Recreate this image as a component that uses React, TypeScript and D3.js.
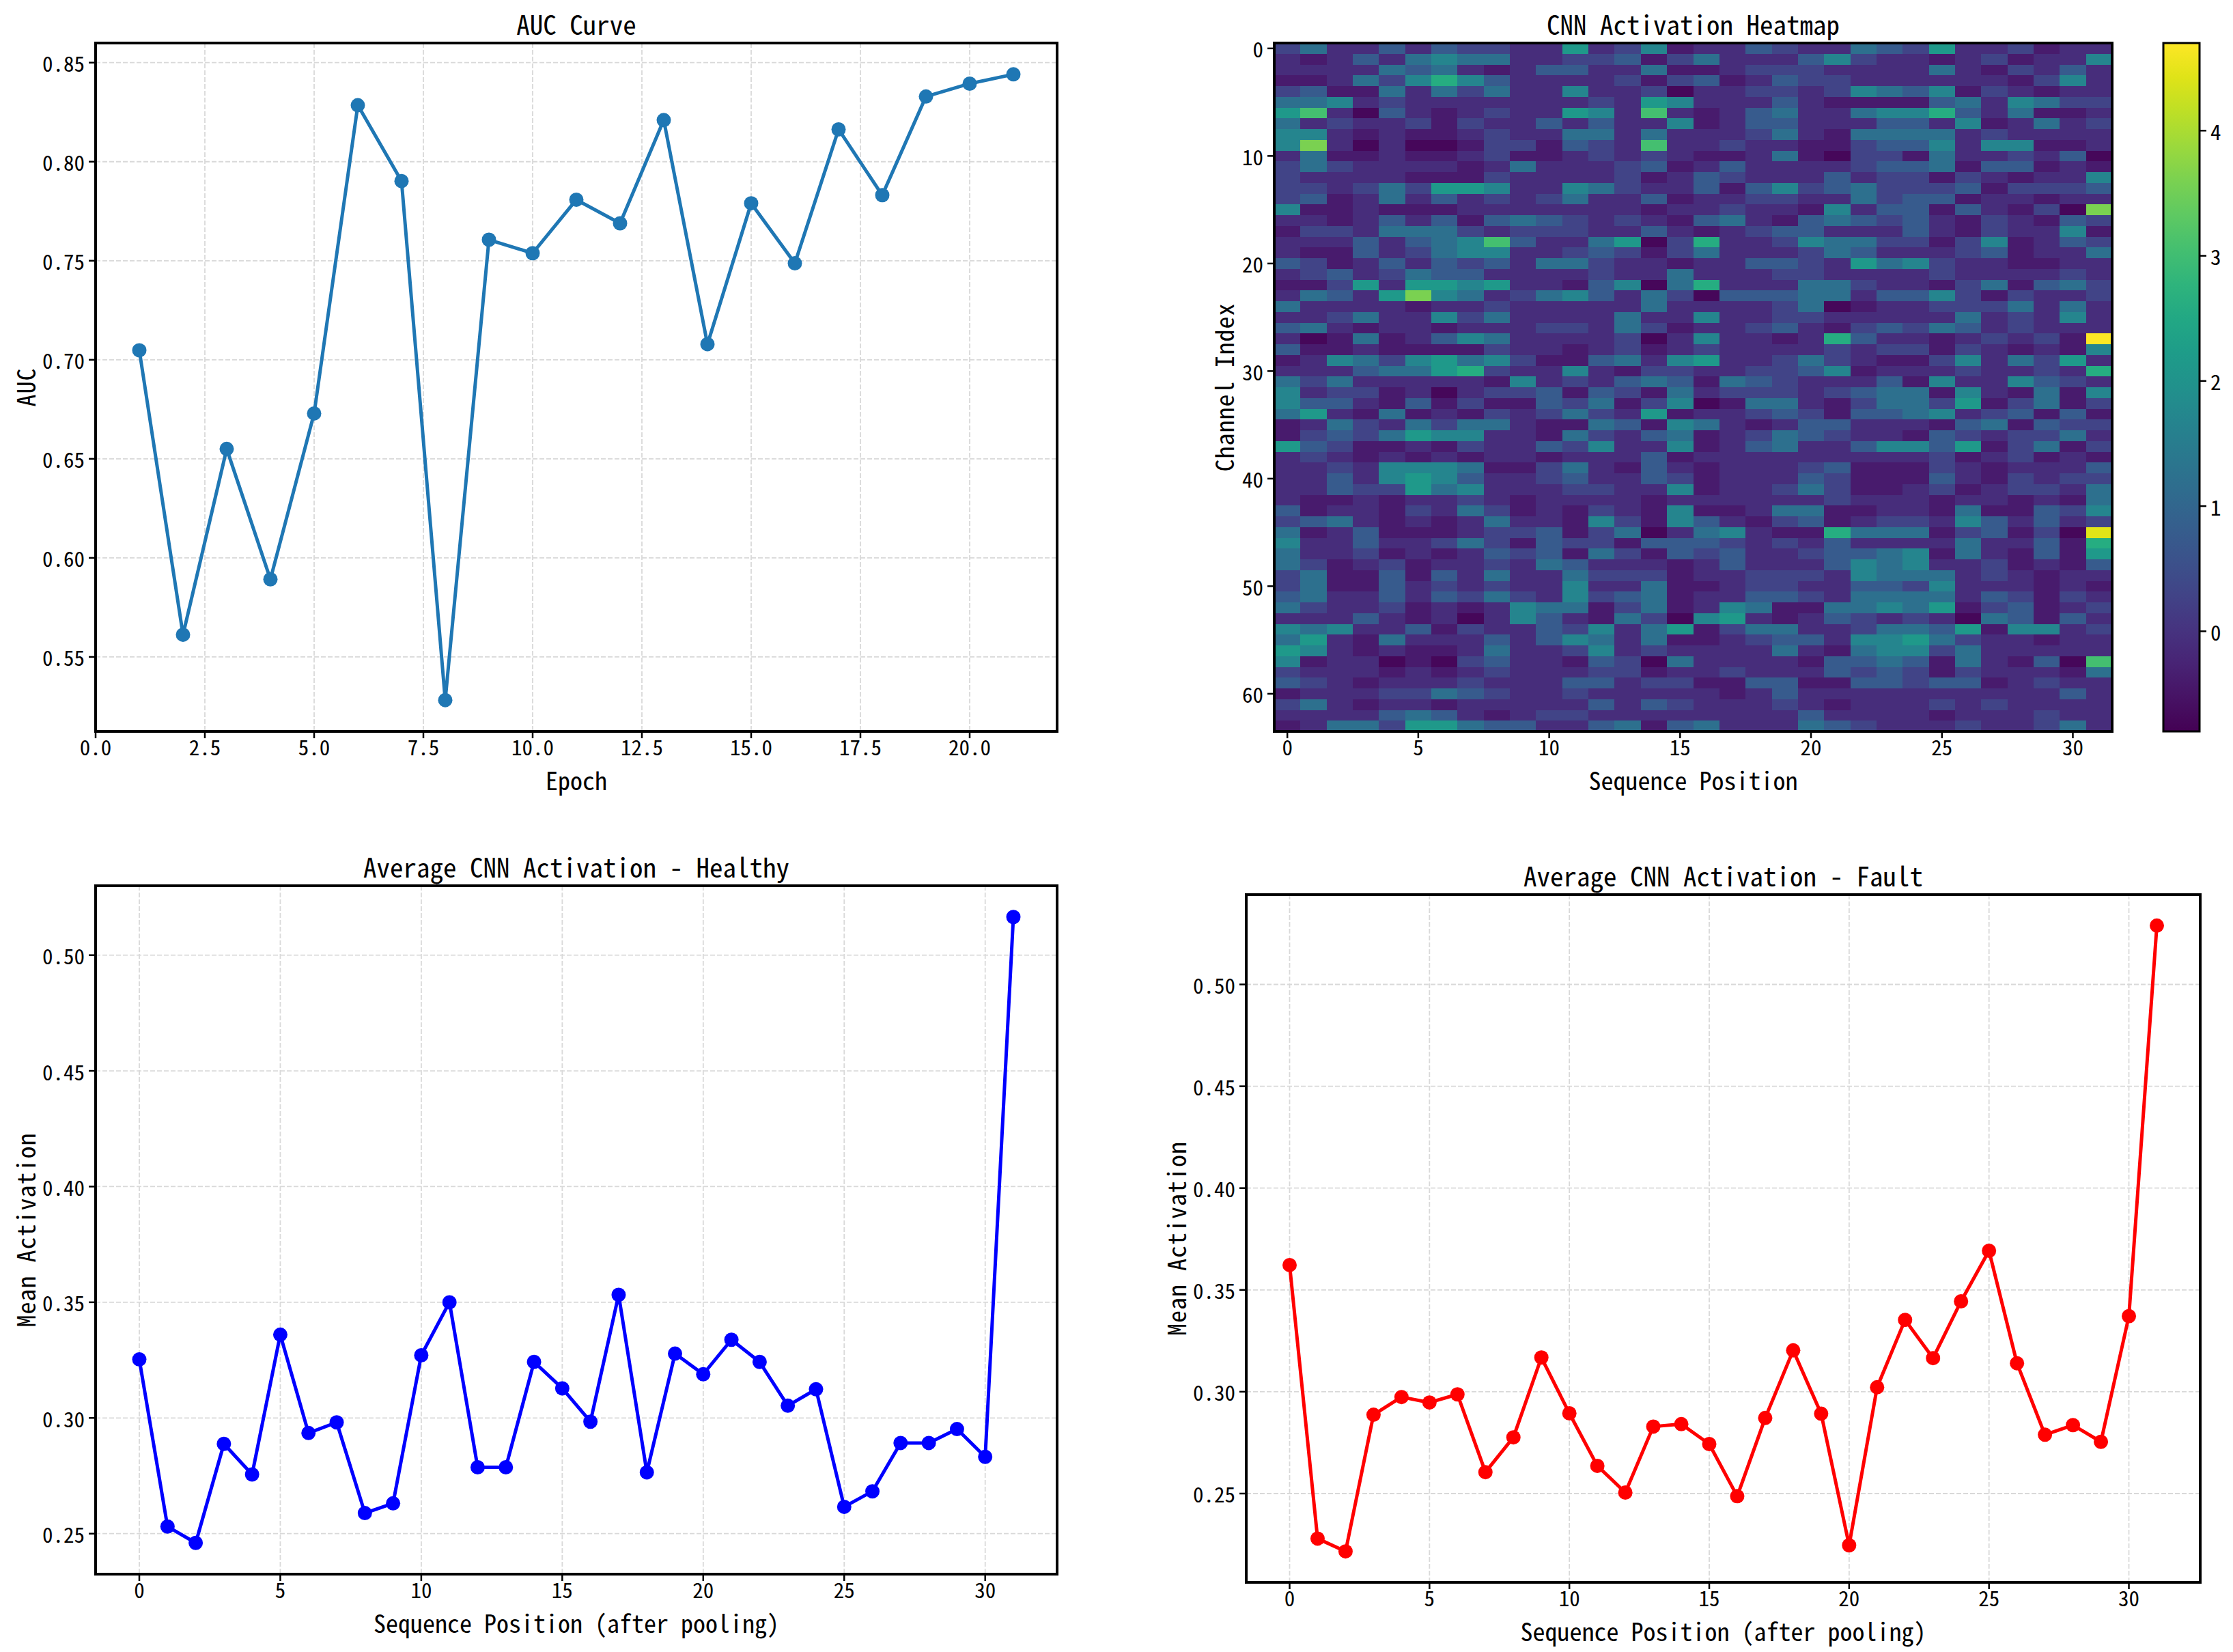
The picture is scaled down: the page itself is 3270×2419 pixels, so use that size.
import * as d3 from 'd3';
import React from 'react';

const W = 3270;
const H = 2419;
const FONT = '"Noto Sans Mono CJK SC", "Noto Sans CJK SC", "DejaVu Sans", sans-serif';

// ---- AUC curve ----
const epochs = [1, 2, 3, 4, 5, 6, 7, 8, 9, 10, 11, 12, 13, 14, 15, 16, 17, 18, 19, 20, 21];
const aucValues = [
  0.7048, 0.5612, 0.655, 0.5892, 0.6729, 0.8285, 0.7902, 0.5282, 0.7606, 0.7538, 0.7808,
  0.7689, 0.821, 0.7079, 0.779, 0.7487, 0.8163, 0.7831, 0.8329, 0.8394, 0.8441,
];
const aucXTicks = [0, 2.5, 5, 7.5, 10, 12.5, 15, 17.5, 20];
const aucYTicks = [0.55, 0.6, 0.65, 0.7, 0.75, 0.8, 0.85];

// ---- average activation ----
const positions = [
  0, 1, 2, 3, 4, 5, 6, 7, 8, 9, 10, 11, 12, 13, 14, 15, 16, 17, 18, 19, 20, 21, 22, 23, 24, 25,
  26, 27, 28, 29, 30, 31,
];
const healthyMean = [
  0.3253, 0.2531, 0.246, 0.2888, 0.2756, 0.336, 0.2935, 0.2981, 0.2589, 0.2631, 0.3271, 0.35,
  0.2787, 0.2787, 0.3242, 0.3128, 0.2984, 0.3532, 0.2765, 0.3278, 0.3189, 0.3338, 0.3242,
  0.3053, 0.3124, 0.2616, 0.2683, 0.2892, 0.2892, 0.2952, 0.2832, 0.5165,
];
const faultMean = [
  0.3622, 0.2279, 0.2216, 0.2887, 0.2974, 0.2947, 0.2987, 0.2605, 0.2776, 0.3168, 0.2894,
  0.2636, 0.2505, 0.2829, 0.2841, 0.2743, 0.2487, 0.2871, 0.3203, 0.2892, 0.2246, 0.3022,
  0.3353, 0.3165, 0.3444, 0.3692, 0.314, 0.2789, 0.2836, 0.2754, 0.3371, 0.5289,
];
const posTicks = [0, 5, 10, 15, 20, 25, 30];
const meanYTicks = [0.25, 0.3, 0.35, 0.4, 0.45, 0.5];

// ---- heatmap: 64 channels x 32 positions, each char is a level index ----
const levelValues = [-0.7, -0.4, -0.1, 0.3, 0.75, 1.2, 1.7, 2.15, 2.6, 3.05, 3.6, 4.45, 4.7];
const heatRows = [
  '35224243322723612243225437223122',
  '21242565522334135222463221231226',
  '22225452124422511233322225213242',
  '11253686422223134124332222221362',
  '34115253522622302233236546132122',
  '55623222222232762224211114526533',
  '79204212322762921245225668425112',
  '52322313224242261244222442612523',
  '66212112322552522235215555232222',
  '6a202001331432922322113446266112',
  '25112112311232321125103315223240',
  '35322221252223412422223445144121',
  '32222111322223124322242331321226',
  '33235377622653224146345333413334',
  '34125242323522412233225344122122',
  '6112111222222212232216244142130a',
  '22124241454323214521454342132143',
  '13325553233322421234422242132261',
  '22242456942257038223655331361243',
  '21142356622343135222354222341225',
  '43124243425532212244327563221122',
  '23423544222232252223322223222232',
  '11372776722146058222553221351453',
  '25427a65235642530444552446313223',
  '52222122322222522223501223335252',
  '22352263522225226223322222523262',
  '45212212223325312234213435423222',
  '2015124652222302622128422123231c',
  '41121111322123123222232331321216',
  '12653675631145267223532113625372',
  '22245578322621332233461222322328',
  '53522222162324541543222416226432',
  '62331202334143152333234551621516',
  '64421413114351360155213553713513',
  '57215121323532712234314456234141',
  '12532535521154165212442221451433',
  '13435766221532451235432214323352',
  '74311213224362261245224664713513',
  '23212121221222412222222223123121',
  '22326665113521421222341113212224',
  '22426764223422431222431114213233',
  '22433756222332261223531123123325',
  '21121223212222122222232221221215',
  '41221325312132161125511221511436',
  '34521212522163164213412332642423',
  '5124111233413502562118555134130b',
  '62242235314331444323242222522418',
  '52231212434153143422344561521417',
  '53123122325422212422246562231214',
  '35114142522533312233326555232122',
  '35114232322622511233224436222121',
  '45224243532634512244325555243132',
  '53223121265513512651155657134123',
  '22242120264215306721243232054142',
  '65622413224362571355223554716623',
  '57215222424652511234426675322122',
  '76212112522362322225215663522222',
  '61220103422143052222144541521409',
  '32221212322233122322243431322215',
  '43212223222442331144114434412322',
  '12223354322322222124222222222242',
  '35212212222242432223212223232222',
  '22224542123322222222422221222322',
  '12553775442245145222543222322352',
];
const colorDomain = [-0.8, 4.7];
const heatXTicks = [0, 5, 10, 15, 20, 25, 30];
const heatYTicks = [0, 10, 20, 30, 40, 50, 60];
const cbarTicks = [0, 1, 2, 3, 4];

type Box = { left: number; top: number; right: number; bottom: number };

const TICK = 10;
const TICK_FS = 31;
const LABEL_FS = 36;
const TITLE_FS = 39;
const TICK_LABEL_DY = 35;
const XLABEL_DY = 86;

const gridStyle = { stroke: '#d9d9d9', strokeWidth: 1.8, strokeDasharray: '7,3' };

function LinePanel(props: {
  box: Box;
  xs: number[];
  ys: number[];
  xDomain: [number, number];
  yDomain: [number, number];
  xTicks: number[];
  yTicks: number[];
  xFmt: (v: number) => string;
  yFmt: (v: number) => string;
  color: string;
  title: string;
  xLabel: string;
  yLabel: string;
  yLabelX: number;
}) {
  const { box, xs, ys, color } = props;
  const x = d3.scaleLinear().domain(props.xDomain).range([box.left, box.right]);
  const y = d3.scaleLinear().domain(props.yDomain).range([box.bottom, box.top]);
  const pts = xs.map((v, i) => [v, ys[i]] as [number, number]);
  const line = d3
    .line<[number, number]>()
    .x((d) => x(d[0]))
    .y((d) => y(d[1]));
  const cx = (box.left + box.right) / 2;
  const cy = (box.top + box.bottom) / 2;
  return (
    <g>
      {props.xTicks.map((t) => (
        <line key={'gx' + t} x1={x(t)} x2={x(t)} y1={box.top} y2={box.bottom} {...gridStyle} />
      ))}
      {props.yTicks.map((t) => (
        <line key={'gy' + t} x1={box.left} x2={box.right} y1={y(t)} y2={y(t)} {...gridStyle} />
      ))}
      <path d={line(pts) || ''} fill="none" stroke={color} strokeWidth={5} strokeLinejoin="round" />
      {pts.map((p, i) => (
        <circle key={i} cx={x(p[0])} cy={y(p[1])} r={10.5} fill={color} />
      ))}
      <rect
        x={box.left}
        y={box.top}
        width={box.right - box.left}
        height={box.bottom - box.top}
        fill="none"
        stroke="#000"
        strokeWidth={4}
      />
      {props.xTicks.map((t) => (
        <g key={'tx' + t}>
          <line x1={x(t)} x2={x(t)} y1={box.bottom} y2={box.bottom + TICK} stroke="#000" strokeWidth={2.5} />
          <text x={x(t)} y={box.bottom + TICK_LABEL_DY} textAnchor="middle" fontSize={TICK_FS}>
            {props.xFmt(t)}
          </text>
        </g>
      ))}
      {props.yTicks.map((t) => (
        <g key={'ty' + t}>
          <line x1={box.left - TICK} x2={box.left} y1={y(t)} y2={y(t)} stroke="#000" strokeWidth={2.5} />
          <text
            x={box.left - TICK - 6}
            y={y(t)}
            textAnchor="end"
            dominantBaseline="central"
            fontSize={TICK_FS}
          >
            {props.yFmt(t)}
          </text>
        </g>
      ))}
      <text x={cx} y={box.top - 12} textAnchor="middle" fontSize={TITLE_FS}>
        {props.title}
      </text>
      <text x={cx} y={box.bottom + XLABEL_DY} textAnchor="middle" fontSize={LABEL_FS}>
        {props.xLabel}
      </text>
      <text
        transform={`translate(${props.yLabelX},${cy}) rotate(-90)`}
        textAnchor="middle"
        dominantBaseline="central"
        fontSize={LABEL_FS}
        letterSpacing={1}
      >
        {props.yLabel}
      </text>
    </g>
  );
}

function Heatmap({ box, cbar }: { box: Box; cbar: Box }) {
  const nRows = heatRows.length;
  const nCols = heatRows[0].length;
  const x = d3.scaleLinear().domain([-0.5, nCols - 0.5]).range([box.left, box.right]);
  const y = d3.scaleLinear().domain([-0.5, nRows - 0.5]).range([box.top, box.bottom]);
  const color = d3.scaleSequential(d3.interpolateViridis).domain(colorDomain as [number, number]);
  const cy = d3.scaleLinear().domain(colorDomain).range([cbar.bottom, cbar.top]);
  const cells: { r: number; c: number; v: number }[] = [];
  heatRows.forEach((row, r) => {
    row.split('').forEach((ch, c) => {
      cells.push({ r, c, v: levelValues[parseInt(ch, 16)] });
    });
  });
  const stops = d3.range(0, 1.0001, 0.05);
  const cx = (box.left + box.right) / 2;
  const my = (box.top + box.bottom) / 2;
  return (
    <g>
      <defs>
        <linearGradient id="viridisBar" x1="0" y1="1" x2="0" y2="0">
          {stops.map((s) => (
            <stop key={s} offset={s} stopColor={d3.interpolateViridis(s)} />
          ))}
        </linearGradient>
      </defs>
      <g shapeRendering="crispEdges">
        {cells.map((d) => (
          <rect
            key={d.r + '-' + d.c}
            x={x(d.c - 0.5)}
            y={y(d.r - 0.5)}
            width={x(d.c + 0.5) - x(d.c - 0.5) + 0.6}
            height={y(d.r + 0.5) - y(d.r - 0.5) + 0.6}
            fill={color(d.v)}
          />
        ))}
      </g>
      <rect
        x={box.left}
        y={box.top}
        width={box.right - box.left}
        height={box.bottom - box.top}
        fill="none"
        stroke="#000"
        strokeWidth={4}
      />
      {heatXTicks.map((t) => (
        <g key={'hx' + t}>
          <line x1={x(t)} x2={x(t)} y1={box.bottom} y2={box.bottom + TICK} stroke="#000" strokeWidth={2.5} />
          <text x={x(t)} y={box.bottom + TICK_LABEL_DY} textAnchor="middle" fontSize={TICK_FS}>
            {t}
          </text>
        </g>
      ))}
      {heatYTicks.map((t) => (
        <g key={'hy' + t}>
          <line x1={box.left - TICK} x2={box.left} y1={y(t)} y2={y(t)} stroke="#000" strokeWidth={2.5} />
          <text
            x={box.left - TICK - 6}
            y={y(t)}
            textAnchor="end"
            dominantBaseline="central"
            fontSize={TICK_FS}
          >
            {t}
          </text>
        </g>
      ))}
      <text x={cx} y={box.top - 12} textAnchor="middle" fontSize={TITLE_FS}>
        CNN Activation Heatmap
      </text>
      <text x={cx} y={box.bottom + XLABEL_DY} textAnchor="middle" fontSize={LABEL_FS}>
        Sequence Position
      </text>
      <text
        transform={`translate(${box.left - 75},${my}) rotate(-90)`}
        textAnchor="middle"
        dominantBaseline="central"
        fontSize={LABEL_FS}
        letterSpacing={1}
      >
        Channel Index
      </text>
      <rect
        x={cbar.left}
        y={cbar.top}
        width={cbar.right - cbar.left}
        height={cbar.bottom - cbar.top}
        fill="url(#viridisBar)"
        stroke="#000"
        strokeWidth={3}
      />
      {cbarTicks.map((t) => (
        <g key={'cb' + t}>
          <line x1={cbar.right} x2={cbar.right + TICK} y1={cy(t)} y2={cy(t)} stroke="#000" strokeWidth={2.5} />
          <text x={cbar.right + TICK + 6} y={cy(t)} dominantBaseline="central" fontSize={TICK_FS}>
            {t}
          </text>
        </g>
      ))}
    </g>
  );
}

export default function App() {
  const f2 = d3.format('.2f');
  const f1 = d3.format('.1f');
  const fi = (v: number) => String(v);
  return (
    <svg
      width={W}
      height={H}
      viewBox={`0 0 ${W} ${H}`}
      style={{ position: 'absolute', left: 0, top: 0, background: '#fff' }}
      fontFamily={FONT}
    >
      <rect width={W} height={H} fill="#fff" />
      <LinePanel
        box={{ left: 140, top: 63, right: 1548, bottom: 1071 }}
        xs={epochs}
        ys={aucValues}
        xDomain={[0, 22]}
        yDomain={[0.5124, 0.8599]}
        xTicks={aucXTicks}
        yTicks={aucYTicks}
        xFmt={f1}
        yFmt={f2}
        color="#1f77b4"
        title="AUC Curve"
        xLabel="Epoch"
        yLabel="AUC"
        yLabelX={36}
      />
      <Heatmap
        box={{ left: 1866, top: 63, right: 3093, bottom: 1071 }}
        cbar={{ left: 3168, top: 63, right: 3221, bottom: 1071 }}
      />
      <LinePanel
        box={{ left: 140, top: 1297, right: 1548, bottom: 2305 }}
        xs={positions}
        ys={healthyMean}
        xDomain={[-1.55, 32.55]}
        yDomain={[0.2325, 0.53]}
        xTicks={posTicks}
        yTicks={meanYTicks}
        xFmt={fi}
        yFmt={f2}
        color="#0000ff"
        title="Average CNN Activation - Healthy"
        xLabel="Sequence Position (after pooling)"
        yLabel="Mean Activation"
        yLabelX={36}
      />
      <LinePanel
        box={{ left: 1825, top: 1310, right: 3222, bottom: 2317 }}
        xs={positions}
        ys={faultMean}
        xDomain={[-1.55, 32.55]}
        yDomain={[0.2064, 0.5441]}
        xTicks={posTicks}
        yTicks={meanYTicks}
        xFmt={fi}
        yFmt={f2}
        color="#ff0000"
        title="Average CNN Activation - Fault"
        xLabel="Sequence Position (after pooling)"
        yLabel="Mean Activation"
        yLabelX={1721}
      />
    </svg>
  );
}
